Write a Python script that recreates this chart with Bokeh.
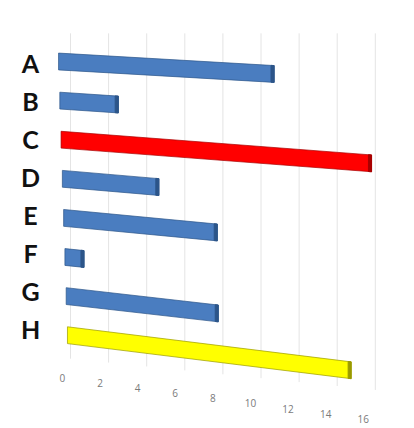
from bokeh.plotting import figure
from bokeh.models import Range1d, ColumnDataSource
from bokeh.embed import file_html
from bokeh.resources import INLINE
from bokeh.core.properties import value

# ---- data ----
categories = ["A", "B", "C", "D", "E", "F", "G", "H"]
values = [11, 3, 16, 5, 8, 1, 8, 15]
tick_values = [0, 2, 4, 6, 8, 10, 12, 14, 16]
tick_labels = ["0", "2", "4", "6", "8", "10", "12", "14", "16"]

# ---- styles ----
bar_fill = ["#4A7DC0", "#4A7DC0", "#FF0000", "#4A7DC0", "#4A7DC0", "#4A7DC0", "#4A7DC0", "#FFFF00"]
bar_edge = ["#2C5589", "#2C5589", "#A80000", "#2C5589", "#2C5589", "#2C5589", "#2C5589", "#9A9A00"]

W, H = 414, 428
PX_UNIT = 19.6      # screen px per value unit
PX_ROW = 39.1       # screen px per category row
X0_PX, Y0_PX = 60, 61

p = figure(width=W, height=H, min_border=0, output_backend="svg",
           toolbar_location=None, x_axis_location=None, y_axis_location=None,
           x_range=Range1d(-X0_PX / PX_UNIT, (W - X0_PX) / PX_UNIT),
           y_range=Range1d((H - Y0_PX) / PX_ROW, -Y0_PX / PX_ROW))
p.outline_line_color = None
p.grid.visible = False
p.background_fill_color = "white"
p.border_fill_color = "white"


def project(v, r):
    """pseudo-perspective: rows lower down tilt more"""
    x = -0.1 + 0.065 * r + v * (1 - 0.005 * r)
    y = r + v * (0.029 + 0.0044 * r)
    return x, y


# gridlines (back wall)
gx0, gx1, gy0, gy1 = [], [], [], []
for g in tick_values:
    gx = 0.51 + g * 0.972
    gx0.append(gx); gx1.append(gx)
    gy0.append(-0.72); gy1.append(7.6 + g * 0.05)
p.segment(x0=gx0, y0=gy0, x1=gx1, y1=gy1, line_color="#E4E4E4", line_width=1)

# bars
half = 0.215
cap = 0.16
xs_face, ys_face, xs_cap, ys_cap = [], [], [], []
for i, v in enumerate(values):
    x_a, y_a = project(0, i)
    x_b, y_b = project(v, i)
    xs_face.append([x_a, x_b, x_b, x_a])
    ys_face.append([y_a - half, y_b - half, y_b + half, y_a + half])
    x_c, y_c = project(v - cap, i)
    xs_cap.append([x_c, x_b, x_b, x_c])
    ys_cap.append([y_c - half, y_b - half, y_b + half, y_c + half])

p.patches(xs=xs_face, ys=ys_face, fill_color=bar_fill, line_color=bar_edge,
          line_width=1, line_alpha=0.7)
p.patches(xs=xs_cap, ys=ys_cap, fill_color=bar_edge, line_color=bar_edge, line_width=1)

# category labels
lab_x = [-1.53] * len(categories)
lab_y = [0.05 + i * 0.972 for i in range(len(categories))]
p.text(x=lab_x, y=lab_y, text=categories, text_font=value("Lato"),
       text_font_style="bold", text_font_size="25px", text_color="#111111",
       text_align="center", text_baseline="middle")

# value tick labels along slanted floor edge
LABEL_ROW = 8.1
tx, ty = [], []
for g in tick_values:
    x, y = project(g, LABEL_ROW)
    tx.append(x - 0.33); ty.append(y)
p.text(x=tx, y=ty, text=tick_labels, text_font=value("Open Sans"),
       text_font_size="10px", text_color="#7A7A7A",
       text_align="center", text_baseline="middle")

open("out.html", "w").write(file_html(p, INLINE))
